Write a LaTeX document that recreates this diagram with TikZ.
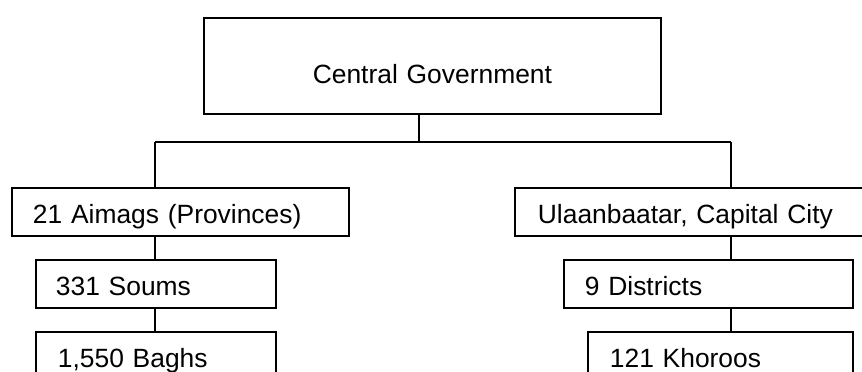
\documentclass[tikz,border=0pt]{standalone}
\usepackage{fontspec}
\setmainfont{Liberation Sans}
\tikzset{
  tier/.style={draw, line width=1.8pt, inner ysep=0pt, anchor=north west,
    align=left, text height=36pt, text depth=12pt,
    font=\fontsize{26.4}{30}\selectfont},
  link/.style={line width=1.8pt}
}
\begin{document}
\begin{tikzpicture}[x=1pt, y=-1pt]
    \useasboundingbox (0,0) rectangle (862,372);
    % top level
    \node[tier, align=center, inner xsep=0pt, text width=457pt, text height=66pt, text depth=30pt] (gov) at (203,17) {Central Government};
    % left branch
    \node[tier, inner xsep=21pt, text width=295pt] (aimag) at (11,187) {21 Aimags (Provinces)};
    \node[tier, inner xsep=20pt, text width=200pt] (soum) at (35,259) {331 Soums};
    \node[tier, inner xsep=22pt, text width=196pt] (bagh) at (35,331) {1,550 Baghs};
    % right branch
    \node[tier, inner xsep=23pt, text width=354pt] (city) at (514,187) {Ulaanbaatar, Capital City};
    \node[tier, inner xsep=21pt, text width=247pt] (district) at (563,259) {9 Districts};
    \node[tier, inner xsep=22pt, text width=221pt] (khoroo) at (587,331) {121 Khoroos};
    % connectors
    \coordinate (hub) at (419,142);
    \coordinate (lj) at (155,142);
    \coordinate (rj) at (731,142);
    \draw[link] (gov.south -| hub) -- (hub);
    \draw[link] (lj) -- (rj);
    \draw[link] (lj) -- (aimag.north -| lj);
    \draw[link] (aimag.south -| lj) -- (soum.north -| lj);
    \draw[link] (soum.south -| lj) -- (bagh.north -| lj);
    \draw[link] (rj) -- (city.north -| rj);
    \draw[link] (city.south -| rj) -- (district.north -| rj);
    \draw[link] (district.south -| rj) -- (khoroo.north -| rj);
\end{tikzpicture}
\end{document}
